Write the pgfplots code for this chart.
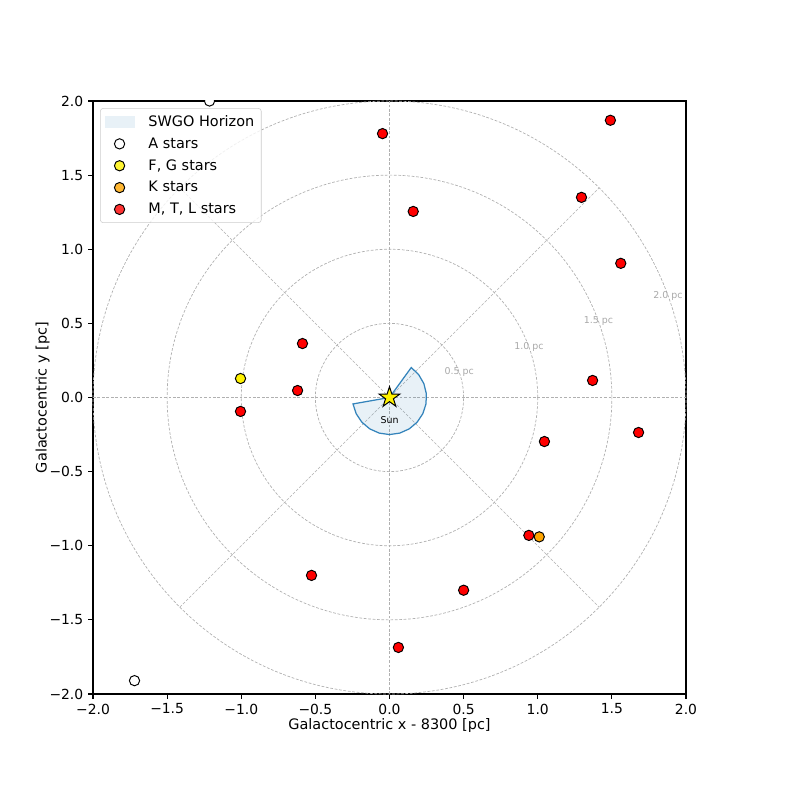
\documentclass[border=0pt]{standalone}
\usepackage{pgfplots}
\pgfplotsset{compat=1.18}
\usepackage{fontspec}
\setmainfont{DejaVu Sans}

\definecolor{tabblue}{HTML}{1F77B4}
\definecolor{gridc}{HTML}{B0B0B0}
\definecolor{lblc}{HTML}{A8A8A8}
\definecolor{kstar}{HTML}{FFA500}

% filled five-pointed star (matplotlib '*')
\pgfdeclareplotmark{fstar}{%
  \pgfpathmoveto{\pgfpointpolar{90}{\pgfplotmarksize}}%
  \pgfpathlineto{\pgfpointpolar{126}{0.382\pgfplotmarksize}}%
  \pgfpathlineto{\pgfpointpolar{162}{\pgfplotmarksize}}%
  \pgfpathlineto{\pgfpointpolar{198}{0.382\pgfplotmarksize}}%
  \pgfpathlineto{\pgfpointpolar{234}{\pgfplotmarksize}}%
  \pgfpathlineto{\pgfpointpolar{270}{0.382\pgfplotmarksize}}%
  \pgfpathlineto{\pgfpointpolar{306}{\pgfplotmarksize}}%
  \pgfpathlineto{\pgfpointpolar{342}{0.382\pgfplotmarksize}}%
  \pgfpathlineto{\pgfpointpolar{18}{\pgfplotmarksize}}%
  \pgfpathlineto{\pgfpointpolar{54}{0.382\pgfplotmarksize}}%
  \pgfpathclose
  \pgfusepathqfillstroke}

\pgfplotsset{
  dotleg/.style={legend image code/.code={%
    \draw[mark repeat=2,mark phase=2,##1] plot coordinates {(0cm,0cm) (0.38cm,0cm) (0.76cm,0cm)};}},
  stmark/.style={only marks, mark=*, mark size=3.7pt, dotleg,
    mark options={fill=#1, draw=black, line width=0.7pt}},
}
\tikzset{gridline/.style={gridc, line width=0.5pt, dash pattern=on 2pt off 1.2pt}}

\begin{document}
\begin{tikzpicture}
\path[use as bounding box] (-66.96pt,-68.4pt) rectangle ++(568.08pt,568.08pt);
\begin{axis}[
    at={(0,0)}, anchor=south west,
    scale only axis, width=426.96pt, height=426.96pt,
    xmin=-2, xmax=2, ymin=-2, ymax=2,
    xtick={-2,-1.5,-1,-0.5,0,0.5,1,1.5,2},
    ytick={-2,-1.5,-1,-0.5,0,0.5,1,1.5,2},
    xticklabels={−2.0,−1.5,−1.0,−0.5,0.0,0.5,1.0,1.5,2.0},
    yticklabels={−2.0,−1.5,−1.0,−0.5,0.0,0.5,1.0,1.5,2.0},
    tick label style={font=\fontsize{10}{12}\selectfont},
    label style={font=\fontsize{10.4}{12}\selectfont},
    xlabel={Galactocentric x - 8300 [pc]},
    ylabel={Galactocentric y [pc]},
    xlabel shift=-3.5pt, ylabel shift=-7pt,
    xtick pos=bottom, ytick pos=left,
    tick align=outside, major tick length=3.5pt,
    major tick style={black, line width=0.8pt},
    axis line style={line width=0.8pt},
    clip mode=individual, clip marker paths=true,
    legend cell align=left,
    legend style={at={(0.012,0.988)}, anchor=north west,
      draw=black!20, rounded corners=2pt, fill=white, fill opacity=0.8, text opacity=1,
      font=\fontsize{10.4}{12}\selectfont, row sep=2.6pt, inner sep=3pt,
      /tikz/every odd column/.append style={column sep=8pt}},
  ]

  % polar grid
  \draw[gridline] (axis cs:0,0) circle[radius=53.37pt];
  \draw[gridline] (axis cs:0,0) circle[radius=106.74pt];
  \draw[gridline] (axis cs:0,0) circle[radius=160.11pt];
  \draw[gridline] (axis cs:0,0) circle[radius=213.48pt];
  \draw[gridline] (axis cs:-2,0) -- (axis cs:2,0);
  \draw[gridline] (axis cs:0,-2) -- (axis cs:0,2);
  \draw[gridline] (axis cs:-1.4142,-1.4142) -- (axis cs:1.4142,1.4142);
  \draw[gridline] (axis cs:-1.4142,1.4142) -- (axis cs:1.4142,-1.4142);
  \node[lblc, font=\fontsize{6.8}{8}\selectfont] at (axis cs:0.470,0.171) {0.5 pc};
  \node[lblc, font=\fontsize{6.8}{8}\selectfont] at (axis cs:0.940,0.342) {1.0 pc};
  \node[lblc, font=\fontsize{6.8}{8}\selectfont] at (axis cs:1.410,0.513) {1.5 pc};
  \node[lblc, font=\fontsize{6.8}{8}\selectfont] at (axis cs:1.879,0.684) {2.0 pc};

  % SWGO horizon wedge, r = 0.25, from -170 to 54 deg
  \addplot[fill=tabblue, fill opacity=0.1, draw=tabblue, draw opacity=0.9, line width=0.9pt,
    legend image code/.code={\path[draw=none, sharp corners, fill=tabblue, fill opacity=0.1]
      (0cm,-0.15cm) rectangle (0.76cm,0.15cm);}]
    coordinates {
      (0,0) (-0.2462,-0.0434) (-0.2247,-0.1096) (-0.1858,-0.1673) (-0.1325,-0.2120)
      (-0.0689,-0.2403) (0,-0.25) (0.0689,-0.2403) (0.1325,-0.2120) (0.1858,-0.1673)
      (0.2247,-0.1096) (0.2462,-0.0434) (0.2486,0.0261) (0.2318,0.0937) (0.1970,0.1539)
      (0.1469,0.2023) (0,0)
    };
  \addlegendentry{SWGO Horizon}

  \addplot[stmark=white] coordinates {(-1.214,2.0) (-1.72,-1.91)};
  \addlegendentry{A stars}

  \addplot[stmark=yellow] coordinates {(-1.005,0.128)};
  \addlegendentry{F, G stars}

  \addplot[stmark=kstar] coordinates {(1.01,-0.94)};
  \addlegendentry{K stars}

  \addplot[stmark=red] coordinates {
      (-0.047,1.78) (1.49,1.87) (1.295,1.35) (0.16,1.255) (1.56,0.905)
      (-0.587,0.364) (-0.62,0.047) (-1.005,-0.094) (1.37,0.115) (1.045,-0.297)
      (1.68,-0.236) (0.94,-0.93) (-0.526,-1.20) (0.50,-1.30) (0.06,-1.686)
    };
  \addlegendentry{M, T, L stars}

  % the Sun
  \addplot[only marks, mark=fstar, mark size=7.8pt, forget plot,
    mark options={fill=yellow, draw=black, line width=0.7pt}] coordinates {(0,0)};
  \node[font=\fontsize{6.8}{8}\selectfont] at (axis cs:0,-0.15) {Sun};
\end{axis}
\end{tikzpicture}
\end{document}
